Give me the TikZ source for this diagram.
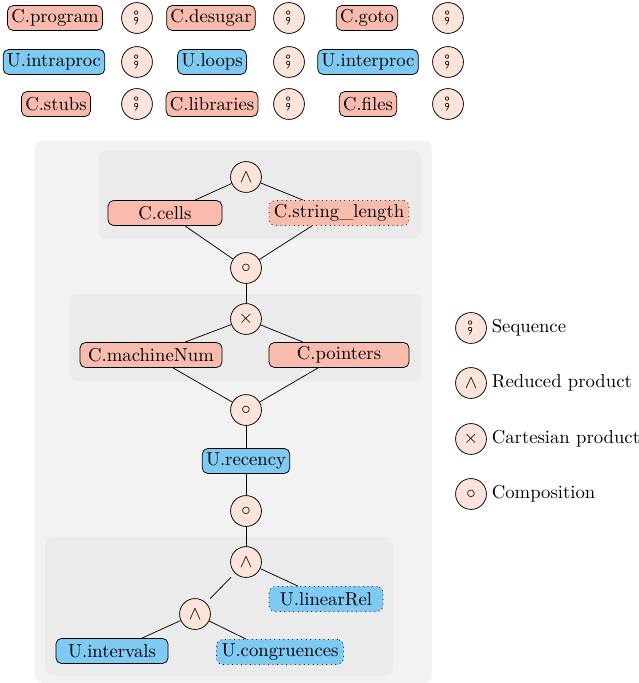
\documentclass[tikz,border=0pt]{standalone}
\usepackage{stmaryrd}
\definecolor{cdom}{RGB}{249,187,174}
\definecolor{udom}{RGB}{127,202,242}
\definecolor{opfill}{RGB}{253,228,218}
\definecolor{bgouter}{RGB}{242,242,242}
\definecolor{bginner}{RGB}{235,235,235}
\tikzset{
  dom/.style={draw, rounded corners=3pt, minimum height=13.4pt, inner sep=2pt},
  cdom/.style={dom, fill=cdom},
  udom/.style={dom, fill=udom},
  weak/.style={dotted},
  op/.style={draw, circle, fill=opfill, minimum size=16.5pt, inner sep=0pt},
  group/.style={fill=bginner, rounded corners=4pt}
}
\begin{document}
\begin{tikzpicture}[x=0.535pt,y=-0.535pt]
\useasboundingbox (0,0) rectangle (638,683);
% sequence of configurations
\node[cdom] (prog) at (55,18) {C.program};
\node[op] (s1) at (137,18) {$\fatsemi$};
\node[cdom] (desugar) at (211,18) {C.desugar};
\node[op] (s2) at (289,18) {$\fatsemi$};
\node[cdom] (goto) at (367,18) {C.goto};
\node[op] (s3) at (448,18) {$\fatsemi$};
\node[udom] (intra) at (54,62) {U.intraproc};
\node[op] (s4) at (137,62) {$\fatsemi$};
\node[udom] (loops) at (212,62) {U.loops};
\node[op] (s5) at (289,62) {$\fatsemi$};
\node[udom] (inter) at (368,62) {U.interproc};
\node[op] (s6) at (448,62) {$\fatsemi$};
\node[cdom] (stubs) at (56,104) {C.stubs};
\node[op] (s7) at (137,104) {$\fatsemi$};
\node[cdom] (libs) at (212,104) {C.libraries};
\node[op] (s8) at (289,104) {$\fatsemi$};
\node[cdom] (files) at (368,104) {C.files};
\node[op] (s9) at (448,104) {$\fatsemi$};
% backgrounds
\fill[bgouter, rounded corners=4pt] (35,141) rectangle (432,683);
\fill[group] (98,151) rectangle (421,238);
\fill[group] (70,294) rectangle (422,381);
\fill[group] (45,537) rectangle (393,675);
% domain tree
\node[op] (red1) at (246,177) {$\wedge$};
\node[cdom, minimum width=61pt] (cells) at (165,213) {C.cells};
\node[cdom, weak, minimum width=75pt] (strlen) at (339,213) {C.string\_length};
\node[op] (comp1) at (246,268) {$\circ$};
\node[op] (cart) at (246,319) {$\times$};
\node[cdom, minimum width=76pt] (mnum) at (151,355) {C.machineNum};
\node[cdom, minimum width=75pt] (ptr) at (339,355) {C.pointers};
\node[op] (comp2) at (246,410) {$\circ$};
\node[udom] (rec) at (246,461) {U.recency};
\node[op] (comp3) at (246,511) {$\circ$};
\node[op] (red2) at (246,562) {$\wedge$};
\node[udom, weak, minimum width=61pt] (lin) at (326,599) {U.linearRel};
\node[op] (red3) at (195,614) {$\wedge$};
\node[udom, minimum width=60pt] (itv) at (112,651) {U.intervals};
\node[udom, weak, minimum width=68pt] (cong) at (280,652) {U.congruences};
\draw (red1) -- (cells.north -| 195,0);
\draw (red1) -- (strlen.north -| 303,0);
\draw (cells.south -| 185,0) -- (comp1);
\draw (strlen.south -| 312,0) -- (comp1);
\draw (comp1) -- (cart);
\draw (cart) -- (mnum.north -| 185,0);
\draw (cart) -- (ptr.north -| 303,0);
\draw (mnum.south -| 173,0) -- (comp2);
\draw (ptr.south -| 318,0) -- (comp2);
\draw (comp2) -- (rec);
\draw (rec) -- (comp3);
\draw (comp3) -- (red2);
\draw (red2) -- (lin.north -| 298,0);
\draw[shorten <=3pt, shorten >=3pt] (red2) -- (red3);
\draw (red3) -- (itv.north -| 142,0);
\draw (red3) -- (cong.north -| 246,0);
% legend
\node[op] (lseq) at (471,328) {$\fatsemi$};
\node[anchor=west, inner sep=2.5pt] (tseq) at (lseq.east) {Sequence};
\node[op] (lred) at (471,383) {$\wedge$};
\node[anchor=west, inner sep=2.5pt] (tred) at (lred.east) {Reduced product};
\node[op] (lcart) at (471,439) {$\times$};
\node[anchor=west, inner sep=2.5pt] (tcart) at (lcart.east) {Cartesian product};
\node[op] (lcomp) at (471,494) {$\circ$};
\node[anchor=west, inner sep=2.5pt] (tcomp) at (lcomp.east) {Composition};
\end{tikzpicture}
\end{document}
